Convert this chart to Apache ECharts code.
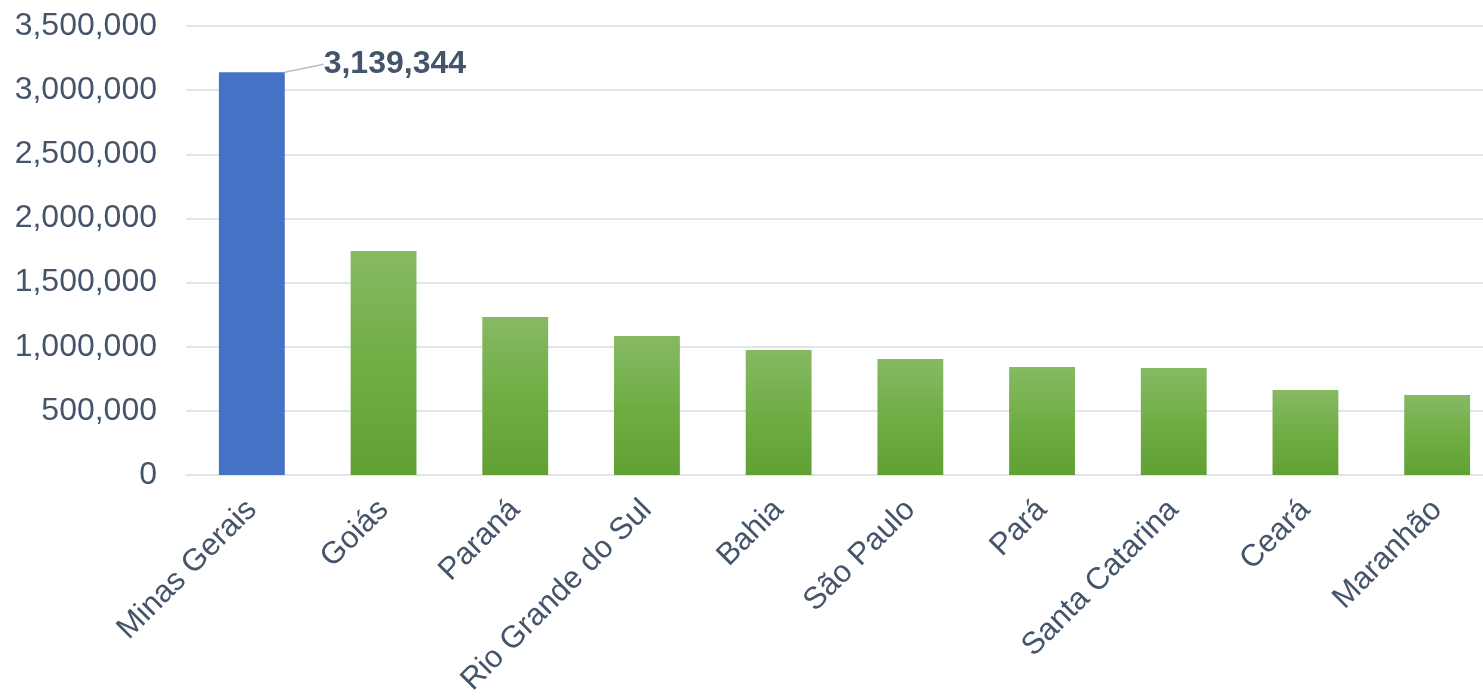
<!DOCTYPE html>
<html>
<head>
<meta charset="utf-8">
<script src="https://cdn.jsdelivr.net/npm/echarts@6/dist/echarts.min.js"></script>
<style>
  html, body { margin: 0; padding: 0; background: #ffffff; }
  #chart { width: 1483px; height: 697px; }
</style>
</head>
<body>
<div id="chart"></div>
<script>
(function () {
  'use strict';

  var states = ['Minas Gerais', 'Goiás', 'Paraná', 'Rio Grande do Sul', 'Bahia',
    'São Paulo', 'Pará', 'Santa Catarina', 'Ceará', 'Maranhão'];
  var herdValues = [3139344, 1747000, 1232000, 1084000, 975000,
    905000, 842000, 835000, 663000, 624000];
  var highlightIndex = 0;

  var textColor = '#44546A';
  var fontName = '"Liberation Sans", Arial, sans-serif';

  function fmt(v) {
    return Number(v).toLocaleString('en-US');
  }

  var green = new echarts.graphic.LinearGradient(0, 0, 0, 1, [
    { offset: 0, color: '#86B964' },
    { offset: 0.5, color: '#70AE45' },
    { offset: 1, color: '#61A033' }
  ]);

  var seriesData = [];
  for (var i = 0; i < herdValues.length; i += 1) {
    var item = { value: herdValues[i], itemStyle: { color: green } };
    if (i === highlightIndex) {
      item.itemStyle = { color: '#4472C4' };
      item.label = {
        show: true,
        position: 'top',
        formatter: function (p) { return fmt(p.value); },
        color: textColor,
        fontFamily: fontName,
        fontWeight: 'bold',
        fontSize: 32
      };
      item.labelLine = {
        show: true,
        lineStyle: { color: '#B4C0D2', width: 1.5 }
      };
    }
    seriesData.push(item);
  }

  var chart = echarts.init(document.getElementById('chart'));
  chart.setOption({
    animation: false,
    backgroundColor: '#ffffff',
    // plot runs past the right edge in the original
    grid: {
      left: 186, right: -20, top: 26, bottom: 222,
      containLabel: false,
      outerBoundsMode: 'none'
    },
    xAxis: {
      type: 'category',
      data: states,
      axisLine: { show: true, lineStyle: { color: '#E1E4EB', width: 2 } },
      axisTick: { show: false },
      axisLabel: {
        interval: 0,
        rotate: 45,
        margin: 30,
        color: textColor,
        fontFamily: fontName,
        fontSize: 31
      }
    },
    yAxis: {
      type: 'value',
      min: 0,
      max: 3500000,
      interval: 500000,
      axisLine: { show: false },
      axisTick: { show: false },
      splitLine: { lineStyle: { color: '#E1E4EB', width: 2 } },
      axisLabel: {
        margin: 29,
        color: textColor,
        fontFamily: fontName,
        fontSize: 32,
        formatter: fmt
      }
    },
    series: [{
      type: 'bar',
      data: seriesData,
      barCategoryGap: '50%',
      labelLayout: { dx: 143, dy: 13 }
    }]
  });
})();
</script>
</body>
</html>
